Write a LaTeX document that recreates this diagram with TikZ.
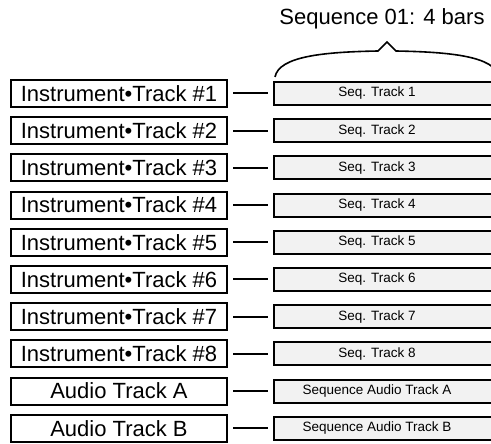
\documentclass[tikz,border=0pt]{standalone}
\usepackage{fontspec}
\setmainfont{Liberation Sans}
\usepackage{tikz}
\usetikzlibrary{positioning}

\begin{document}
\begin{tikzpicture}[x=1pt,y=1pt,line width=2pt,node distance=10.2pt,
  trk/.style={draw,minimum width=216pt,minimum height=27pt,inner sep=0pt,outer sep=0pt,font=\fontsize{22}{25}\selectfont},
  seq/.style={draw,fill=black!5,minimum width=220pt,minimum height=23pt,inner sep=0pt,outer sep=0pt,font=\fontsize{13.5}{16}\selectfont,
    execute at end node={\hspace*{14pt}}},
  link/.style={shorten <=6pt,shorten >=6pt}]
  \useasboundingbox (0,0) rectangle (491,444);
  % tracks on the left
  \node[trk] (i1) at (119,350.5) {Instrument•Track \#1};
  \node[trk] (i2) [below=of i1] {Instrument•Track \#2};
  \node[trk] (i3) [below=of i2] {Instrument•Track \#3};
  \node[trk] (i4) [below=of i3] {Instrument•Track \#4};
  \node[trk] (i5) [below=of i4] {Instrument•Track \#5};
  \node[trk] (i6) [below=of i5] {Instrument•Track \#6};
  \node[trk] (i7) [below=of i6] {Instrument•Track \#7};
  \node[trk] (i8) [below=of i7] {Instrument•Track \#8};
  \node[trk] (ia) [below=of i8] {Audio Track A};
  \node[trk] (ib) [below=of ia] {Audio Track B};
  % sequence tracks
  \node[seq] (s1) [right=47pt of i1] {Seq. Track 1};
  \node[seq] (s2) [right=47pt of i2] {Seq. Track 2};
  \node[seq] (s3) [right=47pt of i3] {Seq. Track 3};
  \node[seq] (s4) [right=47pt of i4] {Seq. Track 4};
  \node[seq] (s5) [right=47pt of i5] {Seq. Track 5};
  \node[seq] (s6) [right=47pt of i6] {Seq. Track 6};
  \node[seq] (s7) [right=47pt of i7] {Seq. Track 7};
  \node[seq] (s8) [right=47pt of i8] {Seq. Track 8};
  \node[seq] (sa) [right=47pt of ia] {Sequence Audio Track A};
  \node[seq] (sb) [right=47pt of ib] {Sequence Audio Track B};
  \draw[link] (i1) -- (s1);
  \draw[link] (i2) -- (s2);
  \draw[link] (i3) -- (s3);
  \draw[link] (i4) -- (s4);
  \draw[link] (i5) -- (s5);
  \draw[link] (i6) -- (s6);
  \draw[link] (i7) -- (s7);
  \draw[link] (i8) -- (s8);
  \draw[link] (ia) -- (sa);
  \draw[link] (ib) -- (sb);
  % brace and title
  \draw[line width=1.6pt] (275,367) .. controls (279,388) and (325,392) .. (378,393)
    -- (387,402) -- (396,393) .. controls (449,392) and (495,388) .. (499,367);
  \node[anchor=base,font=\fontsize{22}{26}\selectfont] (title) at (382,419) {Sequence 01: 4 bars};
\end{tikzpicture}
\end{document}
